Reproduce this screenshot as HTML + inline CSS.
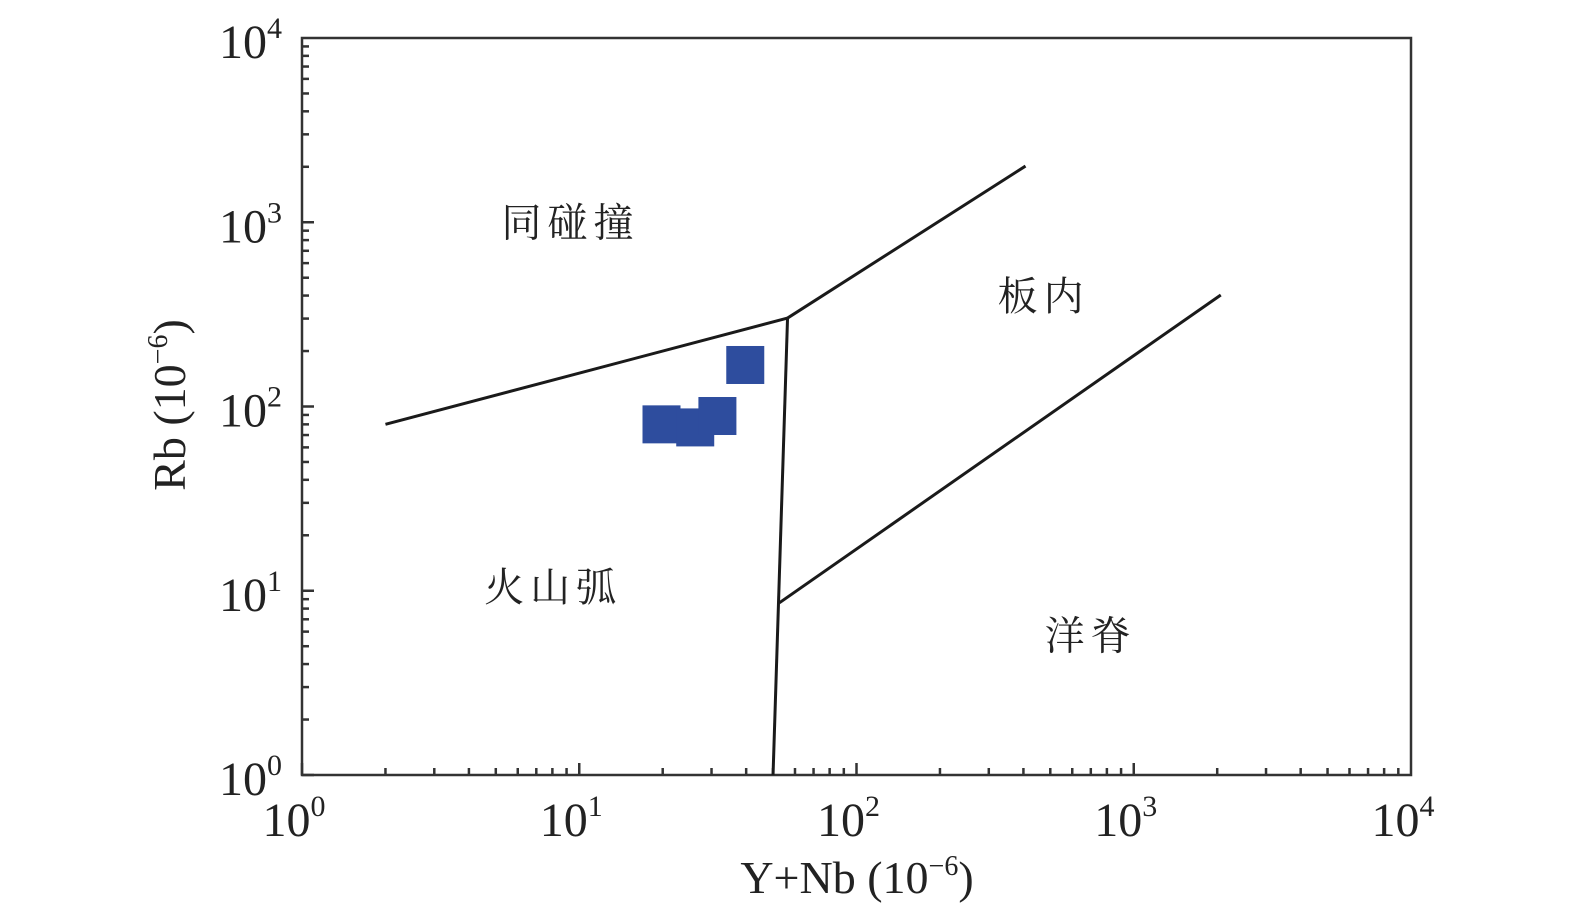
<!DOCTYPE html>
<html><head><meta charset="utf-8"><style>
html,body{margin:0;background:#fff;overflow:hidden}
svg{display:block}
svg text{font-family:"Liberation Serif","Noto Serif CJK SC",serif;fill:#222}
</style></head><body>
<svg id="c" width="1575" height="913">
<g id="g"></g>
</svg>
<script>
const xDecades=[0,1,2,3,4];
const yDecades=[0,1,2,3,4];
const lineBoundA=[[2,80],[56.4,302]];
const lineBoundB=[[56.4,302],[407,2018]];
const lineBoundC=[[56.4,302],[50,1]];
const lineBoundD=[[52.7,8.6],[2060,403]];
const sampleX=[19.8,26.2,31.5,39.7];
const sampleY=[80,77,88.8,168];
const fieldNames=["同碰撞","板内","火山弧","洋脊"];
const fieldX=[9.3,473,8.05,700];
const fieldY=[1000,398,10.5,5.7];

const L=302,R=1411,T=38,B=775;
const X=v=>L+Math.log10(v)*(R-L)/4;
const Y=v=>B-Math.log10(v)*(B-T)/4;
const NS='http://www.w3.org/2000/svg';
const g=document.getElementById('g');
function mk(t,a,p){const e=document.createElementNS(NS,t);for(const k in a)e.setAttribute(k,a[k]);(p||g).appendChild(e);return e;}

const frame=mk('rect',{x:L,y:T,width:R-L,height:B-T,fill:'none',stroke:'#333','stroke-width':2.5});



for(let d=0;d<4;d++){for(let m=1;m<=9;m++){const v=Math.pow(10,d)*m;const len=m===1?12:7;
 const tx=mk('line',{x1:X(v),x2:X(v),y1:B,y2:B-len,stroke:'#333','stroke-width':2.5});
 
 
 const ty=mk('line',{x1:L,x2:L+len,y1:Y(v),y2:Y(v),stroke:'#333','stroke-width':2.5});
 
 
}}
xDecades.forEach(d=>{const t=mk('text',{x:X(Math.pow(10,d))-8,y:836,'font-size':48,'text-anchor':'middle'});
 
 
 t.innerHTML='10<tspan font-size="30" dy="-20">'+d+'</tspan>';});
yDecades.forEach(d=>{const t=mk('text',{x:282,y:Y(Math.pow(10,d))+20,'font-size':48,'text-anchor':'end'});
 
 
 t.innerHTML='10<tspan font-size="30" dy="-20">'+d+'</tspan>';});

[lineBoundA,lineBoundB,lineBoundC,lineBoundD].forEach((ln,i)=>{
 const e=mk('line',{x1:X(ln[0][0]),y1:Y(ln[0][1]),x2:X(ln[1][0]),y2:Y(ln[1][1]),stroke:'#1a1a1a','stroke-width':3});
 
 
});

sampleX.forEach((v,i)=>{
 const e=mk('rect',{x:X(v)-19,y:Y(sampleY[i])-19,width:38,height:38,fill:'#2e4d9e'});
 
 
});

fieldNames.forEach((n,i)=>{
 const e=mk('text',{x:X(fieldX[i]),y:Y(fieldY[i])+14,'font-size':40,'text-anchor':'middle','letter-spacing':6});
 e.textContent=n;
 
 
});

const xt=mk('text',{x:857,y:893,'font-size':46,'text-anchor':'middle'});
xt.innerHTML='Y+Nb (10<tspan font-size="28" dy="-18">−6</tspan><tspan dy="18">)</tspan>';


const yt=mk('text',{x:0,y:0,'font-size':46,'text-anchor':'middle',transform:'translate(185,405) rotate(-90)'});
yt.innerHTML='Rb (10<tspan font-size="28" dy="-18">−6</tspan><tspan dy="18">)</tspan>';


</script>
</body></html>
